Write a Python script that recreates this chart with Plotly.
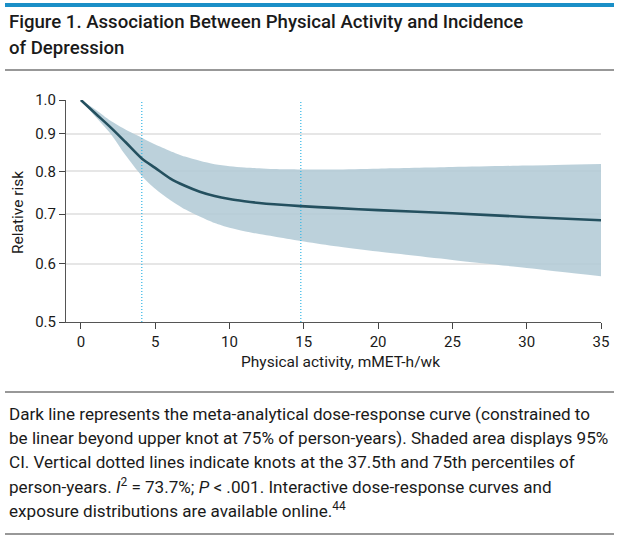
import plotly.graph_objects as go

# ---- data ----
activity = [0, 1, 2, 3, 4.1, 5, 6, 7, 8, 9, 10, 11, 12, 13, 14.8, 17, 20, 25, 30, 35]
rr_main = [1.0, 0.958, 0.918, 0.877, 0.833, 0.809, 0.783, 0.765, 0.751, 0.741, 0.734,
           0.729, 0.725, 0.722, 0.718, 0.714, 0.709, 0.702, 0.694, 0.687]
rr_upper = [1.0, 0.970, 0.937, 0.912, 0.889, 0.870, 0.853, 0.838, 0.827, 0.818, 0.813,
            0.810, 0.808, 0.806, 0.805, 0.805, 0.807, 0.811, 0.815, 0.819]
rr_lower = [1.0, 0.948, 0.900, 0.842, 0.789, 0.758, 0.732, 0.711, 0.695, 0.681, 0.671,
            0.664, 0.658, 0.653, 0.644, 0.634, 0.623, 0.607, 0.592, 0.577]
knots = [4.1, 14.8]
x_ticks = [0, 5, 10, 15, 20, 25, 30, 35]
y_ticks = [0.5, 0.6, 0.7, 0.8, 0.9, 1.0]
y_tick_labels = ["0.5", "0.6", "0.7", "0.8", "0.9", "1.0"]

x_title = "Physical activity, mMET-h/wk"
y_title = "Relative risk"
title_lines = ["Figure 1. Association Between Physical Activity and Incidence",
               "of Depression"]
caption_lines = [
    "Dark line represents the meta-analytical dose-response curve (constrained to",
    "be linear beyond upper knot at 75% of person-years). Shaded area displays 95%",
    "CI. Vertical dotted lines indicate knots at the 37.5th and 75th percentiles of",
    "person-years. <i>I</i><sup>2</sup> = 73.7%; <i>P</i> < .001. Interactive dose-response curves and",
    "exposure distributions are available online.<sup>44</sup>",
]

W, H = 619, 543
L, R, T, B = 66, 601, 100, 322  # plot area in pixels


def px_x(p):
    return (p - L) / (R - L)


def px_y(p):
    return (B - p) / (B - T)


FONT = "Roboto"
TXT = "#1a1a1a"
fig = go.Figure()

# CI band
fig.add_trace(go.Scatter(x=activity, y=rr_upper, mode="lines",
                         line=dict(width=0, shape="spline", smoothing=0.8),
                         hoverinfo="skip", showlegend=False))
fig.add_trace(go.Scatter(x=activity, y=rr_lower, mode="lines",
                         line=dict(width=0, shape="spline", smoothing=0.8),
                         fill="tonexty", fillcolor="rgba(176,201,213,0.85)",
                         hoverinfo="skip", showlegend=False))
# knots
for k in knots:
    fig.add_trace(go.Scatter(x=[k, k], y=[0.5, 1.0], mode="lines",
                             line=dict(color="#33b5e5", width=1.2, dash="1px,2px"),
                             hoverinfo="skip", showlegend=False))
# main curve
fig.add_trace(go.Scatter(x=activity, y=rr_main, mode="lines",
                         line=dict(color="#24505f", width=2.6, shape="spline", smoothing=0.8),
                         showlegend=False))

fig.update_xaxes(range=[-1, 35], tickvals=x_ticks, ticks="outside", ticklen=6,
                 tickcolor="#444", showline=True, linecolor="#555", linewidth=1,
                 showgrid=False, zeroline=False, automargin=False,
                 tickfont=dict(family=FONT, size=15, color=TXT))
fig.update_yaxes(type="log", range=[-0.30103, 0], tickvals=y_ticks, ticktext=y_tick_labels,
                 ticks="outside", ticklen=6, tickcolor="#444", showline=True,
                 linecolor="#555", linewidth=1, showgrid=True, gridcolor="#e6e6e6",
                 gridwidth=1.5, zeroline=False, automargin=False,
                 tickfont=dict(family=FONT, size=15, color=TXT))

annotations = [
    dict(text=x_title, xref="paper", yref="paper", x=px_x(341), y=px_y(362),
         xanchor="center", yanchor="middle", showarrow=False,
         font=dict(family=FONT, size=15.5, color=TXT)),
    dict(text=y_title, xref="paper", yref="paper", x=px_x(18), y=px_y(213),
         xanchor="center", yanchor="middle", showarrow=False, textangle=-90,
         font=dict(family=FONT, size=15.5, color=TXT)),
]
for i, t in enumerate(title_lines):
    annotations.append(dict(text=t, xref="paper", yref="paper", x=px_x(7), y=px_y(22 + 26 * i),
                            xanchor="left", yanchor="middle", showarrow=False,
                            font=dict(family=FONT, size=18.6, color=TXT, weight=500)))
for i, t in enumerate(caption_lines):
    annotations.append(dict(text=t, xref="paper", yref="paper", x=px_x(7), y=px_y(414 + 24 * i),
                            xanchor="left", yanchor="middle", showarrow=False,
                            font=dict(family=FONT, size=17.1, color=TXT)))

shapes = [
    dict(type="rect", xref="paper", yref="paper", x0=px_x(5), x1=px_x(614),
         y0=px_y(7), y1=px_y(3), fillcolor="#1a8fc7", line=dict(width=0), layer="above"),
    dict(type="line", xref="paper", yref="paper", x0=px_x(5), x1=px_x(614),
         y0=px_y(70), y1=px_y(70), line=dict(color="#333", width=1.2)),
    dict(type="line", xref="paper", yref="paper", x0=px_x(5), x1=px_x(614),
         y0=px_y(392), y1=px_y(392), line=dict(color="#333", width=1.2)),
    dict(type="line", xref="paper", yref="paper", x0=px_x(5), x1=px_x(614),
         y0=px_y(534), y1=px_y(534), line=dict(color="#333", width=1.2)),
]

fig.update_layout(width=W, height=H, margin=dict(l=L, r=W - R, t=T, b=H - B),
                  plot_bgcolor="white", paper_bgcolor="white",
                  annotations=annotations, shapes=shapes, showlegend=False)

fig.write_html("out.html", config={"displayModeBar": False},
               post_script="document.body.style.margin='0';document.body.style.padding='0';")
